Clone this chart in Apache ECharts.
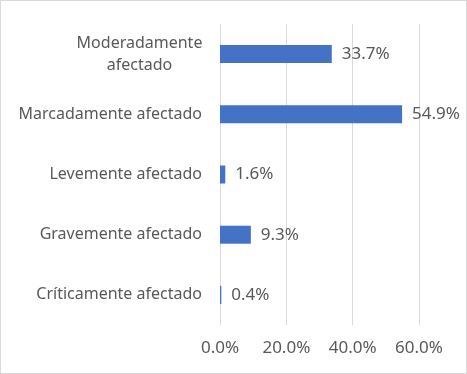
<!DOCTYPE html>
<html>
<head>
<meta charset="utf-8">
<script src="https://cdn.jsdelivr.net/npm/echarts@6/dist/echarts.min.js"></script>
<style>
  html, body { margin: 0; padding: 0; background: #fff; }
  #chart {
    width: 467px;
    height: 374px;
    box-sizing: border-box;
    border: 1px solid #d9d9d9;
  }
</style>
</head>
<body>
<div id="chart"></div>
<script>
// categories, top to bottom
const categories = [
  'Moderadamente afectado',
  'Marcadamente afectado',
  'Levemente afectado',
  'Gravemente afectado',
  'Críticamente afectado'
]
// percentages
const values = [33.7, 54.9, 1.6, 9.3, 0.4]
const xTicks = [0, 20, 40, 60]

const textColor = '#595959'
const fontFamily = '"Noto Sans", sans-serif'
const catSize = 16
const numSize = 17

const myChart = echarts.init(document.getElementById('chart'), null, { renderer: 'canvas' })

myChart.setOption({
  animation: false,
  grid: { left: 219, right: 47, top: 23, bottom: 48 },
  xAxis: {
    type: 'value',
    min: xTicks[0],
    max: xTicks[xTicks.length - 1],
    interval: xTicks[1] - xTicks[0],
    axisLine: { show: false },
    axisTick: { show: false },
    splitLine: { lineStyle: { color: '#d9d9d9', width: 1 } },
    axisLabel: {
      color: textColor,
      fontSize: numSize,
      fontFamily: fontFamily,
      margin: 15,
      formatter: v => v.toFixed(1) + '%'
    }
  },
  yAxis: {
    type: 'category',
    inverse: true,
    data: categories,
    axisLine: { show: false },
    axisTick: { show: false },
    axisLabel: {
      color: textColor,
      fontSize: catSize,
      fontFamily: fontFamily,
      margin: 18,
      formatter: function (value) {
        // the first label wraps onto two centred lines
        if (value === 'Moderadamente afectado') {
          return '{c|Moderadamente}\n{c|afectado}'
        }
        return value
      },
      rich: {
        c: {
          color: textColor,
          fontSize: catSize,
          fontFamily: fontFamily,
          width: 125,
          align: 'center',
          lineHeight: 22
        }
      }
    }
  },
  series: [{
    type: 'bar',
    data: values,
    barWidth: 18,
    itemStyle: { color: '#4472c4' },
    label: {
      show: true,
      position: 'right',
      distance: 10,
      color: textColor,
      fontSize: numSize,
      fontFamily: fontFamily,
      formatter: p => p.value.toFixed(1) + '%'
    }
  }]
})
</script>
</body>
</html>
